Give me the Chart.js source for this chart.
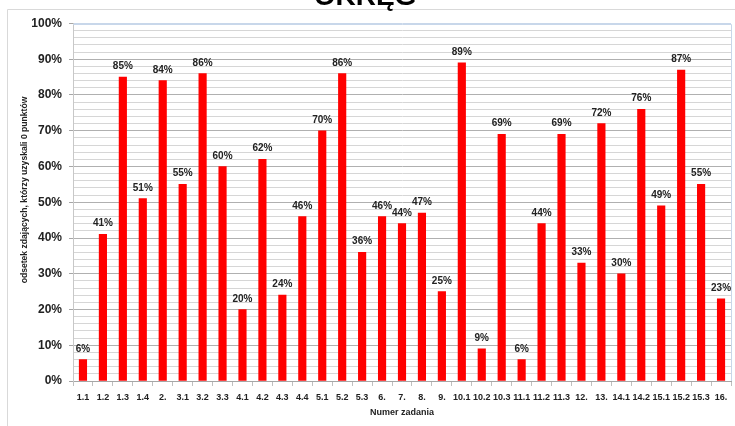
<!DOCTYPE html>
<html>
<head>
<meta charset="utf-8">
<script src="https://cdn.jsdelivr.net/npm/chart.js@4"></script>
<style>
  html, body { margin: 0; padding: 0; background: #fff; }
  #wrap { width: 735px; height: 426px; position: relative; overflow: hidden; }
</style>
</head>
<body>
<div id="wrap"><canvas id="c" width="735" height="426"></canvas></div>
<script>
// Task numbers (categories)
const categories = ['1.1','1.2','1.3','1.4','2.','3.1','3.2','3.3','4.1','4.2','4.3','4.4',
  '5.1','5.2','5.3','6.','7.','8.','9.','10.1','10.2','10.3','11.1','11.2','11.3',
  '12.','13.','14.1','14.2','15.1','15.2','15.3','16.'];

// Share of students who scored 0 points, in percent
const zeroScoreShare = [6,41,85,51,84,55,86,60,20,62,24,46,70,86,36,46,44,47,25,89,9,69,6,44,69,33,72,30,76,49,87,55,23];

// Labelled y-axis values (minor grid every 2%)
const yMajorTicks = [0,10,20,30,40,50,60,70,80,90,100];

const chartTitle = 'OKRĘG';
const yTitle = 'odsetek zdających, którzy uzyskali 0 punktów';
const xTitle = 'Numer zadania';

const FONT = "'Liberation Sans', Arial, sans-serif";
const TEXT = '#222';

const isMajor = v => yMajorTicks.includes(v);

// Outer frame, title, rotated y title, plot border and value labels
const decorations = {
  id: 'decorations',
  beforeDraw(chart) {
    const ctx = chart.ctx;
    ctx.save();
    ctx.strokeStyle = '#d9d9d9';
    ctx.lineWidth = 1;
    ctx.beginPath();
    ctx.moveTo(7.5, 426);
    ctx.lineTo(7.5, 9.5);
    ctx.lineTo(735, 9.5);
    ctx.stroke();

    ctx.fillStyle = '#000';
    ctx.font = 'bold 28px ' + FONT;
    ctx.textAlign = 'center';
    ctx.textBaseline = 'alphabetic';
    ctx.fillText(chartTitle, 365, 5);

    ctx.translate(25, 190);
    ctx.rotate(-Math.PI / 2);
    ctx.font = 'bold 8.6px ' + FONT;
    ctx.fillStyle = TEXT;
    ctx.textAlign = 'center';
    ctx.textBaseline = 'middle';
    ctx.fillText(yTitle, 0, 0);
    ctx.restore();
  },
  afterDraw(chart) {
    const ctx = chart.ctx;
    const a = chart.chartArea;
    ctx.save();
    ctx.strokeStyle = '#c8d7ea';
    ctx.lineWidth = 1;
    ctx.beginPath();
    ctx.moveTo(a.left, Math.round(a.top) + 0.5);
    ctx.lineTo(Math.round(a.right) + 0.5, Math.round(a.top) + 0.5);
    ctx.lineTo(Math.round(a.right) + 0.5, a.bottom);
    ctx.stroke();

    ctx.fillStyle = TEXT;
    ctx.font = 'bold 10px ' + FONT;
    ctx.textAlign = 'center';
    ctx.textBaseline = 'alphabetic';
    const meta = chart.getDatasetMeta(0);
    meta.data.forEach((bar, i) => {
      ctx.fillText(zeroScoreShare[i] + '%', bar.x, bar.y - 8);
    });
    ctx.restore();
  }
};

new Chart(document.getElementById('c'), {
  type: 'bar',
  data: {
    labels: categories,
    datasets: [{
      data: zeroScoreShare,
      backgroundColor: '#ff0000',
      borderWidth: 0,
      barThickness: 7.5
    }]
  },
  options: {
    responsive: false,
    animation: false,
    devicePixelRatio: 1,
    layout: { padding: { top: 23.5, right: 4, bottom: 0, left: 0 } },
    plugins: {
      legend: { display: false },
      tooltip: { enabled: false },
      title: { display: false }
    },
    scales: {
      x: {
        afterFit(scale) { scale.height = 45; },
        grid: {
          offset: true,
          drawOnChartArea: false,
          drawTicks: true,
          tickLength: 5,
          tickColor: '#bfbfbf'
        },
        border: { color: '#a6a6a6' },
        ticks: {
          autoSkip: false,
          maxRotation: 0,
          padding: 6,
          color: TEXT,
          font: { family: FONT, size: 9, weight: 'bold' }
        },
        title: {
          display: true,
          text: xTitle,
          color: TEXT,
          font: { family: FONT, size: 9, weight: 'bold' },
          padding: { top: 0, bottom: 7.6 }
        }
      },
      y: {
        min: 0,
        max: 100,
        afterFit(scale) { scale.width = 73; },
        ticks: {
          stepSize: 2,
          autoSkip: false,
          padding: 7,
          color: TEXT,
          font: { family: FONT, size: 12, weight: 'bold' },
          callback: v => isMajor(v) ? v + '%' : ''
        },
        grid: {
          tickLength: 4,
          color: c => {
            const v = c.tick.value;
            if (v === 100) return '#c8d7ea';
            if (v === 0) return '#a6a6a6';
            return isMajor(v) ? '#b0b0b0' : '#d6d6d6';
          },
          tickColor: c => isMajor(c.tick.value) ? '#a6a6a6' : 'rgba(0,0,0,0)'
        },
        border: { color: '#c8c8c8' }
      }
    }
  },
  plugins: [decorations]
});
</script>
</body>
</html>
